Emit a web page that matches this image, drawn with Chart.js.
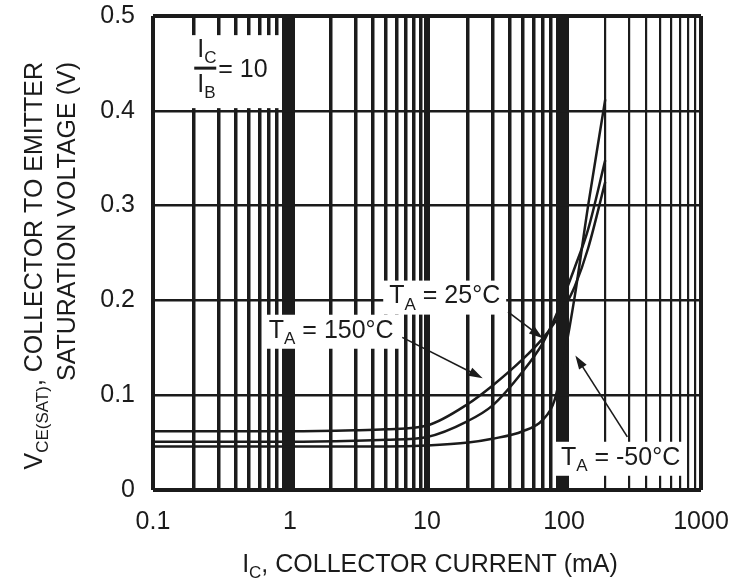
<!DOCTYPE html>
<html>
<head>
<meta charset="utf-8">
<script src="https://cdn.jsdelivr.net/npm/chart.js@4/dist/chart.umd.min.js"></script>
<style>
  html, body { margin: 0; padding: 0; background: #fff; }
</style>
</head>
<body>
<canvas id="chart" width="744" height="582"></canvas>
<script>
const currentMA = [0.1, 0.3, 1, 3, 5, 10, 20, 30, 50, 70, 85, 100, 120, 150, 200];
const vce150 = [0.062, 0.062, 0.062, 0.063, 0.064, 0.068, 0.091, 0.110, 0.138, 0.160, 0.176, 0.192, 0.215, 0.255, 0.325];
const vce25 = [0.051, 0.051, 0.051, 0.052, 0.053, 0.056, 0.073, 0.089, 0.125, 0.155, 0.180, 0.205, 0.235, 0.275, 0.348];
const vceMinus50 = [0.046, 0.046, 0.046, 0.046, 0.046, 0.047, 0.050, 0.054, 0.062, 0.074, 0.094, 0.140, 0.205, 0.300, 0.412];

const decades = [0.1, 1, 10, 100, 1000];
const xTickLabels = ['0.1', '1', '10', '100', '1000'];
const yTicks = [0, 0.1, 0.2, 0.3, 0.4, 0.5];
const yTickLabels = ['0', '0.1', '0.2', '0.3', '0.4', '0.5'];

const ink = '#1b1b1b';
const fontFamily = '"Liberation Sans", Arial, sans-serif';

const near = (a, b) => Math.abs(a - b) < Math.abs(b) * 1e-6 + 1e-12;

// every 1..9 step of each decade, plus the closing 1000
const xGrid = [];
decades.slice(0, 4).forEach(d => {
  for (let k = 1; k <= 9; k++) xGrid.push(d * k);
});
xGrid.push(1000);

function xGridWidth(v) {
  if (near(v, 1) || near(v, 100)) return 10;
  if (near(v, 10)) return 6;
  if (near(v, 0.1) || near(v, 1000)) return 4;
  if (v > 100) return 2.2;
  return 3.5;
}

function points(values) {
  return currentMA.map((x, i) => ({ x: x, y: values[i] }));
}

function font(size) {
  return size + 'px ' + fontFamily;
}

// text made of [string, isSubscript] parts, drawn from the left at a middle line
function richWidth(ctx, parts, size) {
  let w = 0;
  parts.forEach(p => {
    ctx.font = font(p[1] ? Math.round(size * 0.68) : size);
    w += ctx.measureText(p[0]).width;
  });
  return w;
}

function drawRich(ctx, parts, x, y, size) {
  ctx.textBaseline = 'middle';
  ctx.textAlign = 'left';
  parts.forEach(p => {
    const s = p[1] ? Math.round(size * 0.68) : size;
    ctx.font = font(s);
    ctx.fillText(p[0], x, p[1] ? y + size * 0.34 : y);
    x += ctx.measureText(p[0]).width;
  });
}

function arrow(ctx, x1, y1, x2, y2) {
  const a = Math.atan2(y2 - y1, x2 - x1);
  ctx.beginPath();
  ctx.moveTo(x1, y1);
  ctx.lineTo(x2 - 8 * Math.cos(a), y2 - 8 * Math.sin(a));
  ctx.stroke();
  ctx.beginPath();
  ctx.moveTo(x2, y2);
  ctx.lineTo(x2 - 14 * Math.cos(a) + 4.5 * Math.sin(a), y2 - 14 * Math.sin(a) - 4.5 * Math.cos(a));
  ctx.lineTo(x2 - 14 * Math.cos(a) - 4.5 * Math.sin(a), y2 - 14 * Math.sin(a) + 4.5 * Math.cos(a));
  ctx.closePath();
  ctx.fill();
}

const tempLabels = [
  { parts: [['T', 0], ['A', 1], [' = 25°C', 0]], x: 5.3, y: 0.204 },
  { parts: [['T', 0], ['A', 1], [' = 150°C', 0]], x: 0.7, y: 0.168 },
  { parts: [['T', 0], ['A', 1], [' = -50°C', 0]], x: 95, y: 0.034 }
];

const arrows = [
  { from: [39, 0.188], to: [70, 0.160] },
  { from: [6.6, 0.161], to: [25.5, 0.118] },
  { from: [290, 0.056], to: [121, 0.142] }
];

const notes = {
  id: 'notes',
  beforeDatasetsDraw(chart) {
    const { ctx, scales: { x, y } } = chart;
    ctx.save();
    ctx.fillStyle = '#fff';
    tempLabels.forEach(l => {
      const px = x.getPixelForValue(l.x);
      const py = y.getPixelForValue(l.y);
      const w = richWidth(ctx, l.parts, 25);
      ctx.fillRect(px - 6, py - 16, w + 12, 34);
    });
    const rx = x.getPixelForValue(0.2);
    const ry = y.getPixelForValue(0.445);
    ctx.fillRect(rx - 4, ry - 33, 90, 73);
    ctx.restore();
  },
  afterDatasetsDraw(chart) {
    const { ctx, scales: { x, y }, chartArea } = chart;
    ctx.save();
    ctx.fillStyle = ink;
    ctx.strokeStyle = ink;
    ctx.lineWidth = 1.6;

    tempLabels.forEach(l => {
      drawRich(ctx, l.parts, x.getPixelForValue(l.x), y.getPixelForValue(l.y), 25);
    });

    arrows.forEach(a => {
      arrow(ctx,
        x.getPixelForValue(a.from[0]), y.getPixelForValue(a.from[1]),
        x.getPixelForValue(a.to[0]), y.getPixelForValue(a.to[1]));
    });

    // IC / IB = 10
    const rx = x.getPixelForValue(0.2);
    const ry = y.getPixelForValue(0.445);
    ctx.fillRect(rx, ry - 1.5, 22, 3);
    drawRich(ctx, [['I', 0], ['C', 1]], rx + 3, ry - 18, 25);
    drawRich(ctx, [['I', 0], ['B', 1]], rx + 3, ry + 17, 25);
    drawRich(ctx, [['= 10', 0]], rx + 24, ry + 2, 25);

    // axis titles
    const t1 = [['V', 0], ['CE(SAT)', 1], [', COLLECTOR TO EMITTER', 0]];
    const t2 = [['SATURATION VOLTAGE (V)', 0]];
    [[t1, chartArea.left - 118], [t2, chartArea.left - 85]].forEach(t => {
      const w = richWidth(ctx, t[0], 25);
      ctx.save();
      ctx.translate(t[1], chartArea.top + 46);
      ctx.rotate(-Math.PI / 2);
      drawRich(ctx, t[0], -w, 0, 25);
      ctx.restore();
    });

    const xt = [['I', 0], ['C', 1], [', COLLECTOR CURRENT (mA)', 0]];
    const xw = richWidth(ctx, xt, 25);
    drawRich(ctx, xt, (chartArea.left + chartArea.right) / 2 + 3 - xw / 2, chartArea.bottom + 75, 25);
    ctx.restore();
  }
};

new Chart(document.getElementById('chart'), {
  type: 'line',
  data: {
    datasets: [
      { label: 'TA = 150°C', data: points(vce150) },
      { label: 'TA = 25°C', data: points(vce25) },
      { label: 'TA = -50°C', data: points(vceMinus50) }
    ]
  },
  options: {
    responsive: false,
    animation: false,
    layout: { padding: { top: 16, right: 43, left: 0, bottom: 0 } },
    plugins: { legend: { display: false }, tooltip: { enabled: false } },
    elements: {
      point: { radius: 0 },
      line: { borderWidth: 2.5, borderColor: ink, cubicInterpolationMode: 'monotone', fill: false }
    },
    scales: {
      x: {
        type: 'logarithmic',
        min: 0.1,
        max: 1000,
        afterBuildTicks: s => { s.ticks = xGrid.map(v => ({ value: v })); },
        afterFit: s => { s.height = 92; s.paddingLeft = 0; s.paddingRight = 0; },
        border: { display: false },
        grid: { color: ink, lineWidth: c => xGridWidth(c.tick.value), drawTicks: false },
        ticks: {
          autoSkip: false,
          maxRotation: 0,
          padding: 17,
          color: ink,
          font: { family: fontFamily, size: 25 },
          callback: v => {
            const k = decades.findIndex(d => near(v, d));
            return k >= 0 ? xTickLabels[k] : '';
          }
        }
      },
      y: {
        min: 0,
        max: 0.5,
        afterBuildTicks: s => { s.ticks = yTicks.map(v => ({ value: v })); },
        afterFit: s => { s.width = 153; s.paddingTop = 0; s.paddingBottom = 0; },
        border: { display: false },
        grid: { color: ink, lineWidth: c => (c.index === 0 || c.index === yTicks.length - 1) ? 4 : 2.5, drawTicks: false },
        ticks: {
          padding: 18,
          color: ink,
          font: { family: fontFamily, size: 25 },
          callback: (v, i) => yTickLabels[i]
        }
      }
    }
  },
  plugins: [notes]
});
</script>
</body>
</html>
